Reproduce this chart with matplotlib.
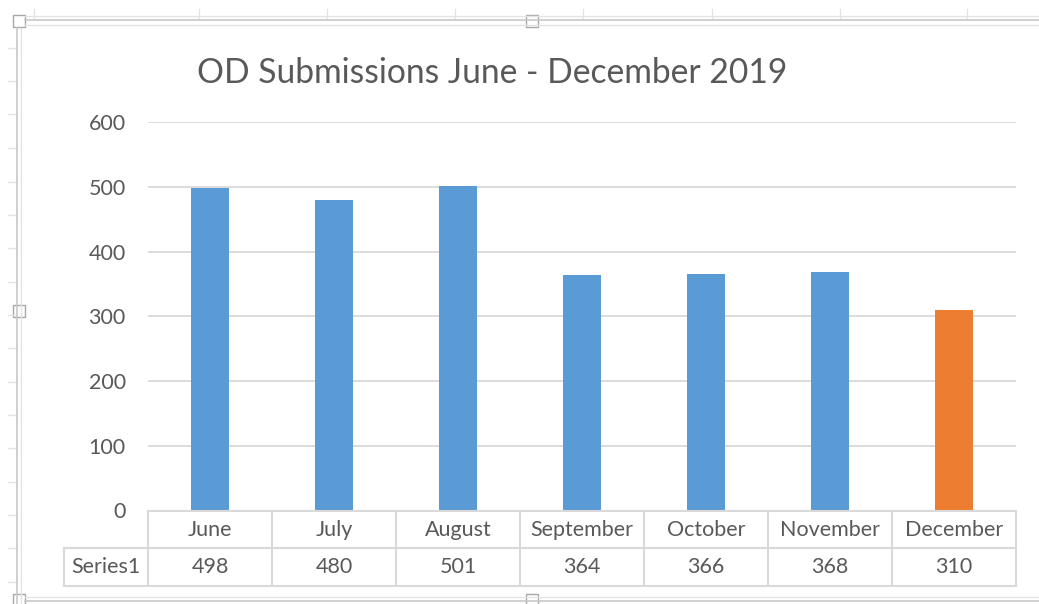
import matplotlib
matplotlib.use("Agg")
import matplotlib.pyplot as plt
from matplotlib.lines import Line2D
from matplotlib.patches import Rectangle
import matplotlib.transforms as mtransforms

months = ["June", "July", "August", "September", "October", "November", "December"]
values = [498, 480, 501, 364, 366, 368, 310]
series_name = "Series1"
yticks = [0, 100, 200, 300, 400, 500, 600]
title = "OD Submissions June - December 2019"

W, H = 1039, 604
DPI = 100
BLUE = "#5B9BD5"
ORANGE = "#ED7D31"
TXT = "#595959"
GRID = "#D9D9D9"
FONT = "Lato"
FS = 15.5

plt.rcParams["font.family"] = [FONT, "DejaVu Sans"]

fig = plt.figure(figsize=(W / DPI, H / DPI), dpi=DPI)
fig.patch.set_facecolor("white")

def fx(px):
    return px / W

def fy(py):
    return 1 - py / H

# axes geometry (pixels)
L, R, T, B = 148, 1016, 122.3, 510.5
ax = fig.add_axes([fx(L), fy(B), fx(R) - fx(L), fy(T) - fy(B)])

colors = [BLUE] * (len(months) - 1) + [ORANGE]
x = list(range(len(months)))
ax.bar(x, values, width=0.31, color=colors, zorder=3)
ax.set_xlim(-0.5, len(months) - 0.5)
ax.set_ylim(0, 600)
ax.set_yticks(yticks)
ax.set_yticklabels([str(v) for v in yticks], fontsize=FS, color=TXT)
ax.tick_params(axis="y", length=0, pad=16)
ax.set_xticks([])
for s in ax.spines.values():
    s.set_visible(False)
ax.yaxis.grid(True, color=GRID, linewidth=1.3, zorder=0)
ax.set_axisbelow(True)

# title
fig.text(fx(492), fy(73), title, ha="center", va="center", fontsize=24.2, color=TXT)

# data table
blend = mtransforms.blended_transform_factory(ax.transData, fig.transFigure)
tlw = 1.5
row_top, row_mid, row_bot = 511, 548, 586
n = len(months)
fig.add_artist(Line2D([fx(L), fx(R)], [fy(row_top), fy(row_top)], color=GRID, lw=tlw))
fig.add_artist(Line2D([fx(64), fx(R)], [fy(row_mid), fy(row_mid)], color=GRID, lw=tlw))
fig.add_artist(Line2D([fx(64), fx(R)], [fy(row_bot), fy(row_bot)], color=GRID, lw=tlw))
fig.add_artist(Line2D([fx(64), fx(64)], [fy(row_mid), fy(row_bot)], color=GRID, lw=tlw))
for i in range(n + 1):
    xb = i - 0.5
    ax.add_line(Line2D([xb, xb], [fy(row_top), fy(row_bot)], transform=blend,
                       color=GRID, lw=tlw, clip_on=False))
for i, (m, v) in enumerate(zip(months, values)):
    ax.text(i, fy((row_top + row_mid) / 2), m, transform=blend, ha="center",
            va="center", fontsize=FS, color=TXT, clip_on=False)
    ax.text(i, fy((row_mid + row_bot) / 2), str(v), transform=blend, ha="center",
            va="center", fontsize=FS, color=TXT, clip_on=False)
fig.text(fx(106), fy((row_mid + row_bot) / 2), series_name, ha="center", va="center",
         fontsize=FS, color=TXT)

# Excel sheet / chart frame decorations
FR = "#C8C8C8"
FR2 = "#E3E3E3"
for cx in [34, 199, 327, 455, 583, 712, 840, 967]:
    fig.add_artist(Line2D([fx(cx), fx(cx)], [fy(9), fy(19)], color=FR2, lw=1))
for ry in [48, 81, 114, 148, 182, 215, 248, 282, 315, 348, 382, 415, 448, 482, 515, 548, 582]:
    fig.add_artist(Line2D([fx(8), fx(16)], [fy(ry), fy(ry)], color=FR2, lw=1))
fig.add_artist(Line2D([fx(25), fx(W)], [fy(16), fy(16)], color=FR2, lw=1))
fig.add_artist(Line2D([fx(25), fx(W)], [fy(20), fy(20)], color=FR, lw=1.2))
fig.add_artist(Line2D([fx(25), fx(W)], [fy(25), fy(25)], color=FR2, lw=1))
fig.add_artist(Line2D([fx(17), fx(17)], [fy(28), fy(H)], color=FR, lw=1.2))
fig.add_artist(Line2D([fx(21), fx(21)], [fy(28), fy(H)], color=FR2, lw=1))
fig.add_artist(Line2D([fx(25), fx(W)], [fy(597), fy(597)], color=FR2, lw=1))
fig.add_artist(Line2D([fx(25), fx(W)], [fy(601), fy(601)], color=FR, lw=1.2))
for hx, hy in [(19, 21), (532, 21), (19, 311), (532, 600), (19, 600)]:
    fig.add_artist(Rectangle((fx(hx - 6), fy(hy + 6)), fx(12), 12 / H,
                             facecolor="white", edgecolor="#A8A8A8", lw=1))

fig.savefig("out.png", dpi=DPI, facecolor="white")
